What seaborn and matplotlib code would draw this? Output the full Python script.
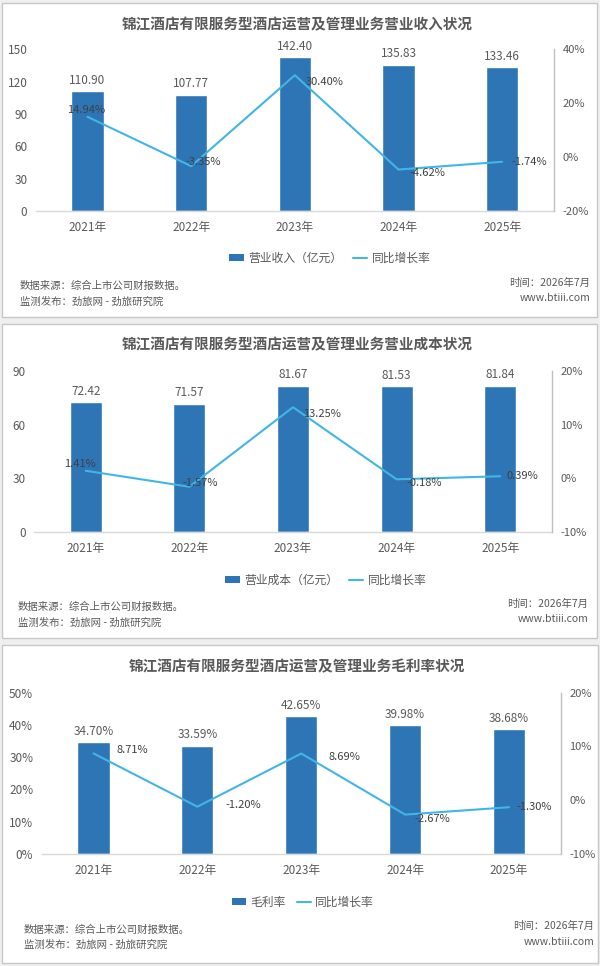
import numpy as np
import pandas as pd
import matplotlib
matplotlib.use("Agg")
import matplotlib.pyplot as plt
from matplotlib.patches import Rectangle, Patch
from matplotlib.lines import Line2D
import matplotlib.ticker as mticker
import seaborn as sns

# ---------------- data ----------------
years = ['2021年', '2022年', '2023年', '2024年', '2025年']
revenue = [110.90, 107.77, 142.40, 135.83, 133.46]
revenue_yoy = [14.94, -3.35, 30.40, -4.62, -1.74]
cost = [72.42, 71.57, 81.67, 81.53, 81.84]
cost_yoy = [1.41, -1.57, 13.25, -0.18, 0.39]
margin = [34.70, 33.59, 42.65, 39.98, 38.68]
margin_yoy = [8.71, -1.20, 8.69, -2.67, -1.30]

titles = ['锦江酒店有限服务型酒店运营及管理业务营业收入状况',
          '锦江酒店有限服务型酒店运营及管理业务营业成本状况',
          '锦江酒店有限服务型酒店运营及管理业务毛利率状况']
bar_names = ['营业收入（亿元）', '营业成本（亿元）', '毛利率']
line_name = '同比增长率'
source1 = '数据来源：综合上市公司财报数据。'
source2 = '监测发布：劲旅网 - 劲旅研究院'
time_txt = '时间：2026年7月'
site_txt = 'www.btiii.com'

# ---------------- style ----------------
sns.set_theme(style="white")
plt.rcParams['font.family'] = ['Noto Sans CJK SC', 'DejaVu Sans']
plt.rcParams['axes.unicode_minus'] = False

BAR = '#2E75B6'
LINE = '#41B6E6'
GRAY = '#595959'
DARK = '#404040'
W, H = 600, 966

fig = plt.figure(figsize=(W / 100, H / 100), dpi=100)
fig.patch.set_facecolor('#EFEFEF')


def fx(x):
    return x / W


def fy(y):
    return 1 - y / H


panels = [
    dict(border=(2, 3, 597, 317), ax=(35.7, 49.3, 554, 211), title_y=24,
         bars=revenue, yoy=revenue_yoy, ylim=(0, 150), yticks=[0, 30, 60, 90, 120, 150], lpct=False,
         rlim=(-20, 40), rticks=[-20, 0, 20, 40],
         offs=[(-1.5, -6.7), (12, -4), (29.3, 7), (29, 3.5), (27, 0)],
         leg=(330, 258), src=(20, 286, 302), rt=(590, 283, 298)),
    dict(border=(2, 324, 597, 638), ax=(34, 371, 552, 532), title_y=344,
         bars=cost, yoy=cost_yoy, ylim=(0, 90), yticks=[0, 30, 60, 90], lpct=False,
         rlim=(-10, 20), rticks=[-10, 0, 10, 20],
         offs=[(-5.5, -6.7), (10.5, -4), (29, 7), (27.5, 3.7), (22.5, 0)],
         leg=(326, 580), src=(18, 607, 623), rt=(588, 604, 619)),
    dict(border=(2, 645, 598, 963), ax=(41.5, 692.7, 561, 854), title_y=666,
         bars=margin, yoy=margin_yoy, ylim=(0, 50), yticks=[0, 10, 20, 30, 40, 50], lpct=True,
         rlim=(-10, 20), rticks=[-10, 0, 10, 20],
         offs=[(38.5, -3.4), (45.6, -1.7), (42.7, 3.2), (27.4, 4.4), (25, -0.5)],
         leg=(303, 902), src=(24, 930, 945), rt=(594, 926, 942)),
]

for i, p in enumerate(panels):
    bx0, by0, bx1, by1 = p['border']
    fig.patches.append(Rectangle((fx(bx0), fy(by1)), fx(bx1 - bx0), (by1 - by0) / H,
                                 transform=fig.transFigure, facecolor='white',
                                 edgecolor='#C8C8C8', lw=1.0, zorder=-10))
    l, t, r, b = p['ax']
    ax = fig.add_axes([fx(l), fy(b), fx(r - l), (b - t) / H])
    ax.set_facecolor('none')
    df = pd.DataFrame({'year': years, 'value': p['bars']})
    sns.barplot(data=df, x='year', y='value', color=BAR, width=0.31, saturation=1,
                ax=ax, zorder=2)
    ax.set_xlim(-0.5, len(years) - 0.5)
    ax.set_ylim(*p['ylim'])
    ax.set_yticks(p['yticks'])
    if p['lpct']:
        ax.yaxis.set_major_formatter(mticker.FuncFormatter(lambda v, _: f'{v:.0f}%'))
    ax.set_xlabel('')
    ax.set_ylabel('')
    for s in ['top', 'left', 'right']:
        ax.spines[s].set_visible(False)
    ax.spines['bottom'].set_color('#D9D9D9')
    ax.spines['bottom'].set_linewidth(1.0)
    ax.tick_params(axis='both', length=0, colors=GRAY, labelsize=8.5)
    ax.tick_params(axis='y', pad=6)
    ax.tick_params(axis='x', pad=7)

    for j, v in enumerate(p['bars']):
        txt = f'{v:.2f}%' if p['lpct'] else f'{v:.2f}'
        ax.annotate(txt, xy=(j, v), xytext=(0, 11 * 0.72), textcoords='offset points',
                    ha='center', va='center', fontsize=8.5, color=GRAY)

    ax2 = ax.twinx()
    ax2.set_facecolor('none')
    sns.lineplot(x=np.arange(len(years)), y=p['yoy'], color=LINE, linewidth=1.5,
                 ax=ax2, zorder=3)
    ax2.set_xlim(-0.5, len(years) - 0.5)
    ax2.set_ylim(*p['rlim'])
    ax2.set_yticks(p['rticks'])
    ax2.yaxis.set_major_formatter(mticker.FuncFormatter(lambda v, _: f'{v:.0f}%'))
    for s in ['top', 'left', 'bottom']:
        ax2.spines[s].set_visible(False)
    ax2.spines['right'].set_color('#BFBFBF')
    ax2.spines['right'].set_linewidth(1.0)
    ax2.tick_params(axis='y', length=0, colors=GRAY, labelsize=8, pad=6)
    ax2.set_ylabel('')

    for j, v in enumerate(p['yoy']):
        dx, dy = p['offs'][j]
        ax2.annotate(f'{v:.2f}%', xy=(j, v), xytext=(dx * 0.72, -dy * 0.72),
                     textcoords='offset points', ha='center', va='center',
                     fontsize=8, color=DARK, zorder=4)

    fig.text(fx(297), fy(p['title_y']), titles[i], ha='center', va='center',
             fontsize=10.5, fontweight='bold', color=GRAY)

    handles = [Patch(facecolor=BAR, edgecolor='none', label=bar_names[i]),
               Line2D([0], [0], color=LINE, lw=1.5, label=line_name)]
    lx, ly = p['leg']
    fig.legend(handles=handles, loc='center', bbox_to_anchor=(fx(lx), fy(ly)),
               ncol=2, frameon=False, fontsize=8.5, handlelength=1.2, handleheight=0.6,
               handletextpad=0.4, columnspacing=0.9, labelcolor=GRAY,
               borderpad=0, borderaxespad=0)

    sx, sy1, sy2 = p['src']
    fig.text(fx(sx), fy(sy1), source1, ha='left', va='center', fontsize=7.5, color=GRAY)
    fig.text(fx(sx), fy(sy2), source2, ha='left', va='center', fontsize=7.5, color=GRAY)
    rx, ry1, ry2 = p['rt']
    fig.text(fx(rx), fy(ry1), time_txt, ha='right', va='center', fontsize=7.5, color=GRAY)
    fig.text(fx(rx), fy(ry2), site_txt, ha='right', va='center', fontsize=7.5, color=GRAY)

fig.savefig('out.png', dpi=100, facecolor=fig.get_facecolor())
